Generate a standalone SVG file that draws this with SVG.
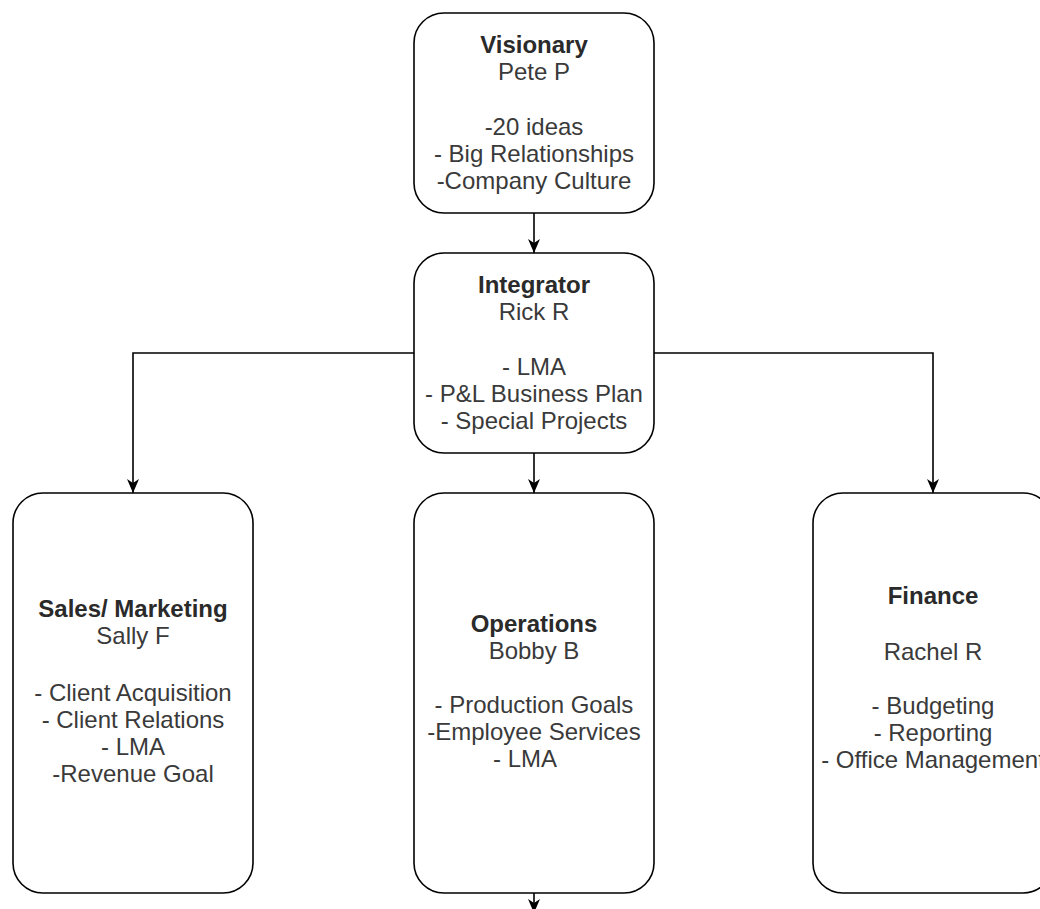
<svg xmlns="http://www.w3.org/2000/svg" width="1040" height="909" viewBox="0 0 1040 909">
<style>
.box{fill:#fff;stroke:#000;stroke-width:1.6}
.t{font-family:"Liberation Sans",Arial,sans-serif;font-size:24px;fill:#3a3a3a;text-anchor:middle}
.b{font-weight:bold;fill:#2a2a2a}
.c{fill:none;stroke:#000;stroke-width:1.6}
</style>
<defs>
<marker id="arr" viewBox="0 0 14 12" refX="14" refY="6" markerWidth="14" markerHeight="12" markerUnits="userSpaceOnUse" orient="auto">
<path d="M0,0 L14,6 L0,12 L4,6 Z" fill="#000"/>
</marker>
</defs>
<rect width="1040" height="909" fill="#fff"/>
<g id="connectors">
<path class="c" d="M534,213 V253" marker-end="url(#arr)"/>
<path class="c" d="M414,353 H133 V493" marker-end="url(#arr)"/>
<path class="c" d="M654,353 H933 V493" marker-end="url(#arr)"/>
<path class="c" d="M534,453 V493" marker-end="url(#arr)"/>
<path class="c" d="M534,893 V913" marker-end="url(#arr)"/>
</g>
<g id="visionary">
<rect class="box" x="414" y="13" width="240" height="200" rx="30"/>
<text class="t b" x="534" y="53">Visionary</text>
<text class="t" x="534" y="80">Pete P</text>
<text class="t" x="534" y="135">-20 ideas</text>
<text class="t" x="534" y="162">- Big Relationships</text>
<text class="t" x="534" y="189">-Company Culture</text>
</g>
<g id="integrator">
<rect class="box" x="414" y="253" width="240" height="200" rx="30"/>
<text class="t b" x="534" y="293">Integrator</text>
<text class="t" x="534" y="320">Rick R</text>
<text class="t" x="534" y="375">- LMA</text>
<text class="t" x="534" y="402">- P&amp;L Business Plan</text>
<text class="t" x="534" y="429">- Special Projects</text>
</g>
<g id="sales">
<rect class="box" x="13" y="493" width="240" height="400" rx="30"/>
<text class="t b" x="133" y="617">Sales/ Marketing</text>
<text class="t" x="133" y="644">Sally F</text>
<text class="t" x="133" y="701">- Client Acquisition</text>
<text class="t" x="133" y="728">- Client Relations</text>
<text class="t" x="133" y="755">- LMA</text>
<text class="t" x="133" y="782">-Revenue Goal</text>
</g>
<g id="operations">
<rect class="box" x="414" y="493" width="240" height="400" rx="30"/>
<text class="t b" x="534" y="632">Operations</text>
<text class="t" x="534" y="659">Bobby B</text>
<text class="t" x="534" y="713">- Production Goals</text>
<text class="t" x="534" y="740">-Employee Services</text>
<text class="t" x="525" y="767">- LMA</text>
</g>
<g id="finance">
<rect class="box" x="813" y="493" width="240" height="400" rx="30"/>
<text class="t b" x="933" y="604">Finance</text>
<text class="t" x="933" y="660">Rachel R</text>
<text class="t" x="933" y="714">- Budgeting</text>
<text class="t" x="933" y="741">- Reporting</text>
<text class="t" x="933" y="768">- Office Management</text>
</g>
</svg>
